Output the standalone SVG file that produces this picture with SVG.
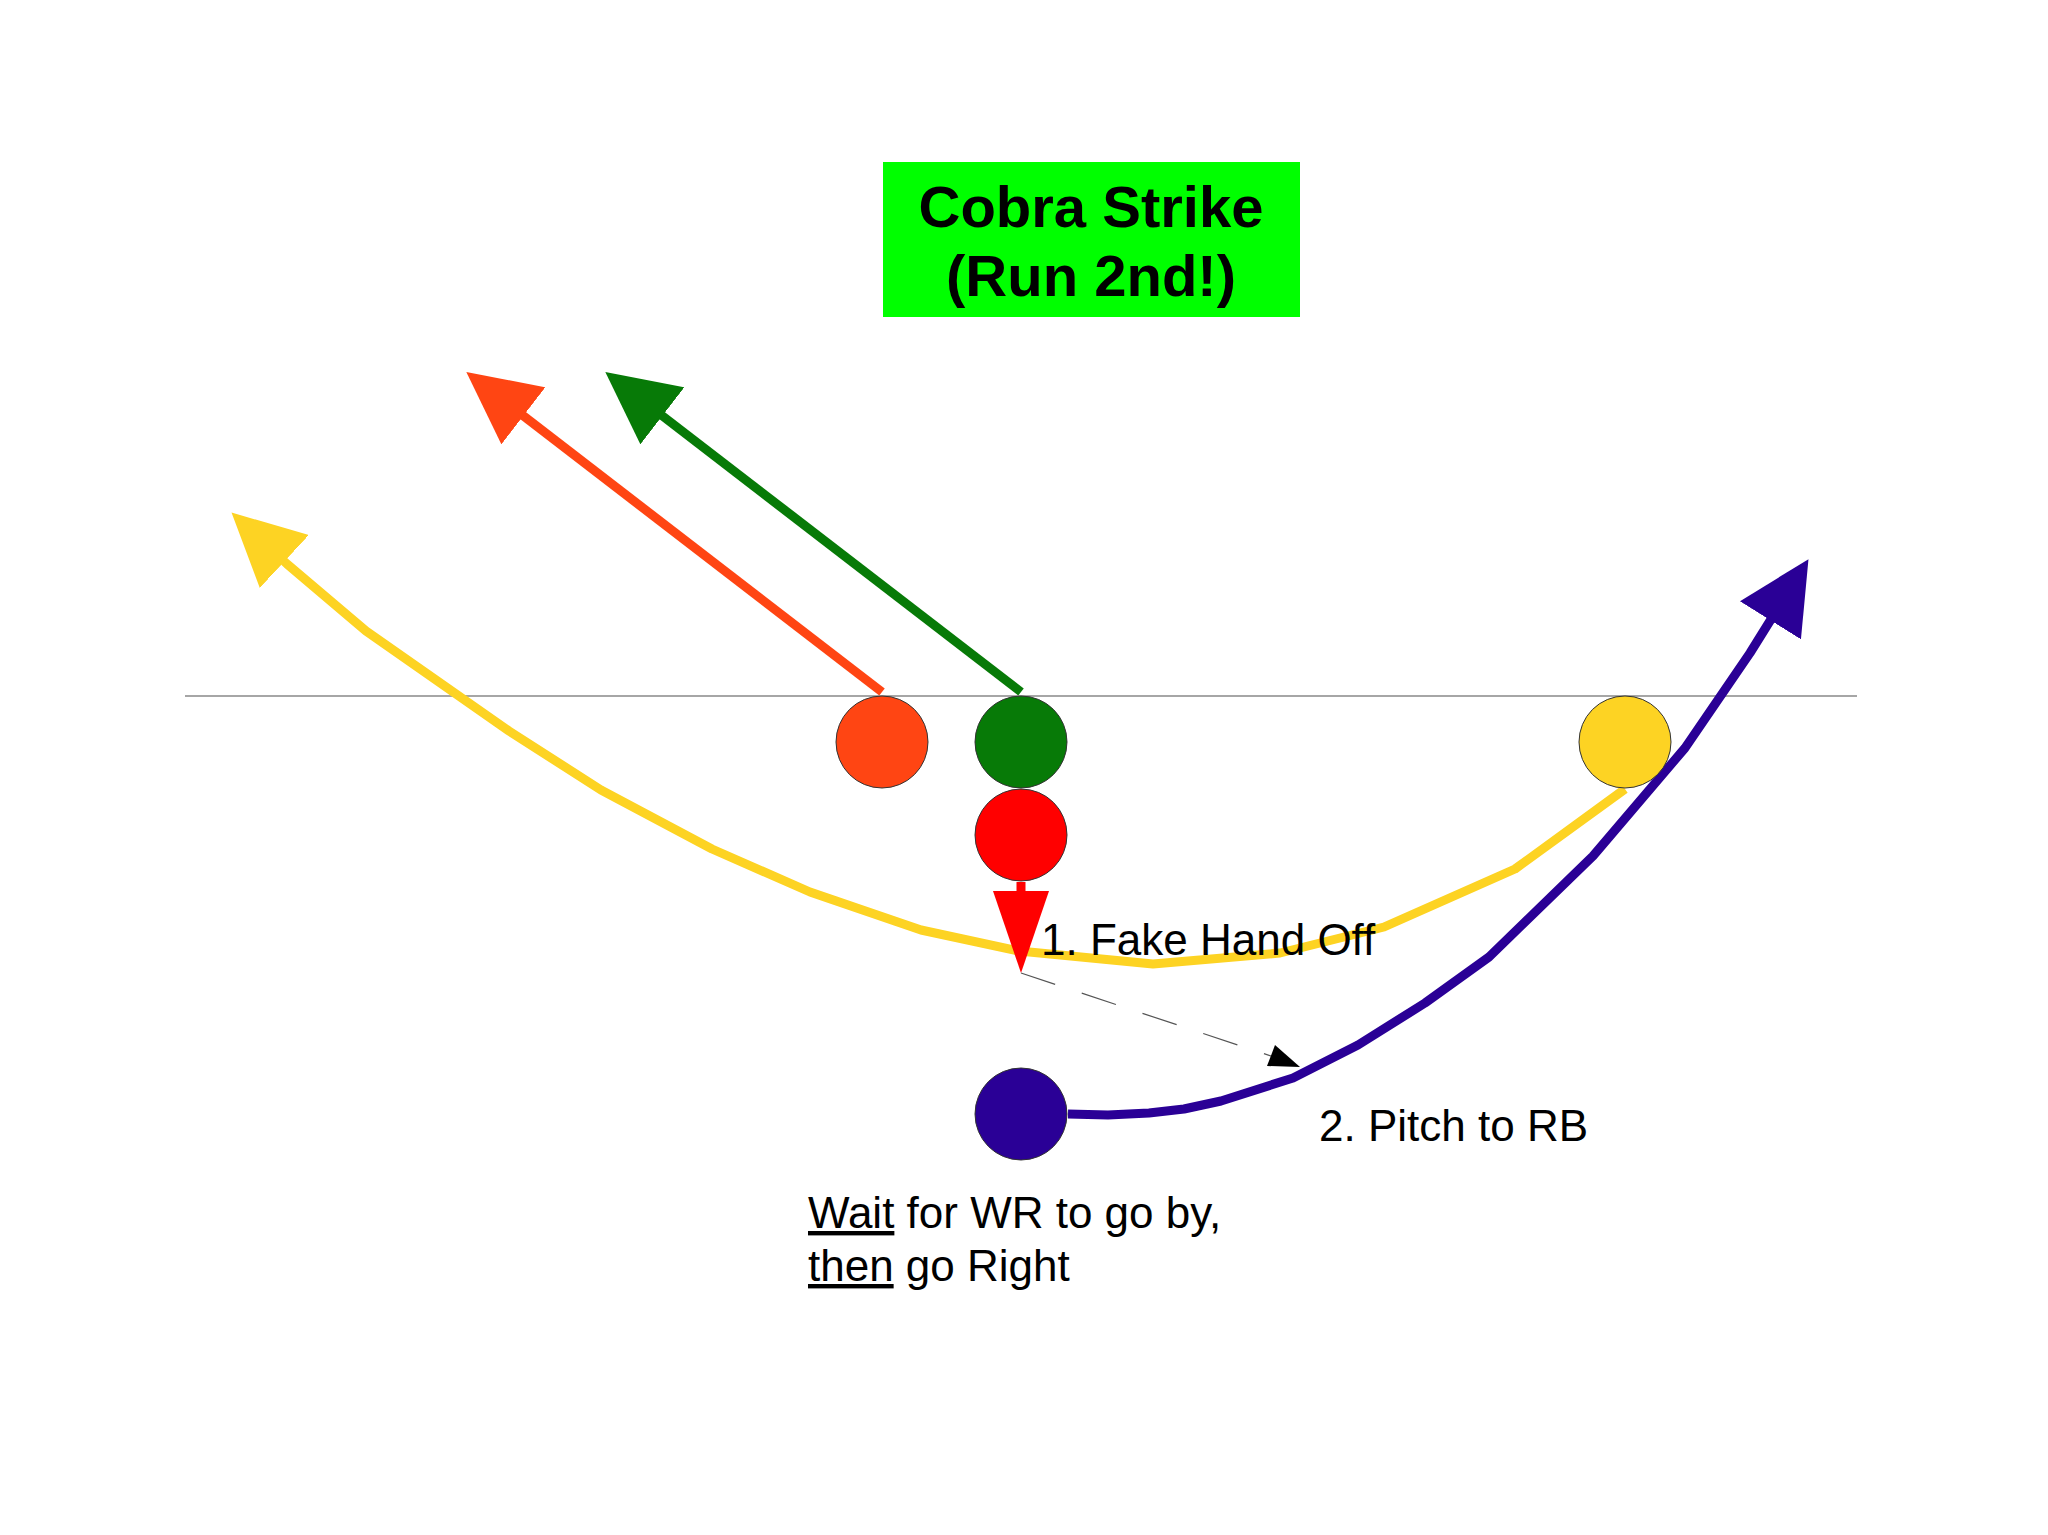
<svg xmlns="http://www.w3.org/2000/svg" width="2048" height="1535" viewBox="0 0 2048 1535">
<style>
.p{fill:none;stroke-width:9;stroke-linejoin:round}
.c{stroke:#333;stroke-width:1}
.t{font-family:"Liberation Sans",Arial,sans-serif;font-size:44px;fill:#000}
.h{font-family:"Liberation Sans",Arial,sans-serif;font-size:58px;font-weight:bold;fill:#000;text-anchor:middle}
</style>
<defs>
<marker id="mo" markerUnits="strokeWidth" markerWidth="8" markerHeight="8" refX="5.8" refY="4" orient="auto" viewBox="0 0 8 8"><path d="M0,0L8,4L0,8z" fill="#ff4513"/></marker>
<marker id="mg" markerUnits="strokeWidth" markerWidth="8" markerHeight="8" refX="5.8" refY="4" orient="auto" viewBox="0 0 8 8"><path d="M0,0L8,4L0,8z" fill="#077a07"/></marker>
<marker id="my" markerUnits="strokeWidth" markerWidth="8" markerHeight="8" refX="5.8" refY="4" orient="auto" viewBox="0 0 8 8"><path d="M0,0L8,4L0,8z" fill="#fdd323"/></marker>
<marker id="mb" markerUnits="strokeWidth" markerWidth="8" markerHeight="8" refX="5.8" refY="4" orient="auto" viewBox="0 0 8 8"><path d="M0,0L8,4L0,8z" fill="#2a0096"/></marker>
</defs>
<rect width="2048" height="1535" fill="#fff"/>
<g id="title"><rect x="883" y="162" width="417" height="155" fill="#00ff00"/>
<text class="h" x="1091" y="227">Cobra Strike</text><text class="h" x="1091" y="296">(Run 2nd!)</text></g>
<line x1="185" y1="696" x2="1857" y2="696" stroke="#888" stroke-width="1.5"/>
<g id="connectors">
<path class="p" stroke="#ff4513" d="M882,692L482,384" marker-end="url(#mo)"/>
<path class="p" stroke="#077a07" d="M1021,692L621,384" marker-end="url(#mg)"/>
<path class="p" stroke="#fdd323" d="M1625,789L1515,869L1384,927L1280,953L1153,964L1019,951L921,930L810,892L712,849L601,790L509,731L366,631L287,564L246,526" marker-end="url(#my)"/>
<path class="p" stroke="#2a0096" d="M1068,1114L1108,1115L1149,1113L1184,1109L1221,1101L1293,1078L1358,1045L1425,1003L1489,957L1593,856L1685,748L1750,653L1798,576" marker-end="url(#mb)"/>
<line x1="1021" y1="882" x2="1021" y2="900" stroke="#f00" stroke-width="9"/>
<polygon points="993,891 1049,891 1021,973" fill="#f00"/>
<line x1="1021" y1="973" x2="1280" y2="1059" stroke="#555" stroke-width="1.2" stroke-dasharray="36,28"/>
<polygon points="1300,1067 1267,1066 1275,1045" fill="#000"/>
</g>
<g id="orange"><circle class="c" cx="882" cy="742" r="46" fill="#ff4513"/></g>
<g id="green"><circle class="c" cx="1021" cy="742" r="46" fill="#077a07"/></g>
<g id="red"><circle class="c" cx="1021" cy="835" r="46" fill="#f00"/></g>
<g id="yellow"><circle class="c" cx="1625" cy="742" r="46" fill="#fdd323"/></g>
<g id="blue"><circle class="c" cx="1021" cy="1114" r="46" fill="#2a0096"/></g>
<text class="t" x="1041" y="955">1. Fake Hand Off</text>
<text class="t" x="1319" y="1141">2. Pitch to RB</text>
<text class="t" x="808" y="1228"><tspan text-decoration="underline">Wait</tspan> for WR to go by,</text>
<text class="t" x="808" y="1281"><tspan text-decoration="underline">then</tspan> go Right</text>
</svg>
